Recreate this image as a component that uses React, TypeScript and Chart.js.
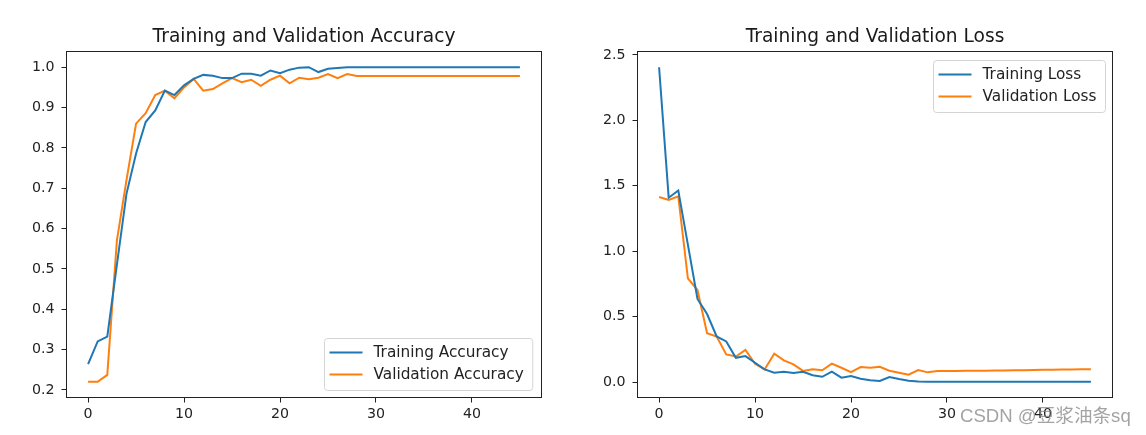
import React, { useEffect, useRef } from 'react';
import { Chart, registerables } from 'chart.js';

Chart.register(...registerables);

// ---- data ----
const trainAcc = [
  0.264, 0.320, 0.332, 0.51, 0.686, 0.786, 0.864, 0.893, 0.942, 0.931,
  0.955, 0.971, 0.981, 0.979, 0.973, 0.973, 0.984, 0.984, 0.979, 0.992,
  0.985, 0.994, 0.999, 1.0, 0.988, 0.996, 0.998, 1.0, 1.0, 1.0,
  1.0, 1.0, 1.0, 1.0, 1.0, 1.0, 1.0, 1.0, 1.0, 1.0,
  1.0, 1.0, 1.0, 1.0, 1.0, 1.0,
];
const valAcc = [
  0.220, 0.220, 0.237, 0.57, 0.72, 0.86, 0.886, 0.931, 0.942, 0.923,
  0.950, 0.971, 0.942, 0.946, 0.960, 0.973, 0.963, 0.969, 0.954, 0.969,
  0.979, 0.960, 0.974, 0.970, 0.974, 0.983, 0.973, 0.983, 0.978, 0.978,
  0.978, 0.978, 0.978, 0.978, 0.978, 0.978, 0.978, 0.978, 0.978, 0.978,
  0.978, 0.978, 0.978, 0.978, 0.978, 0.978,
];
const trainLoss = [
  2.406, 1.409, 1.464, 1.05, 0.635, 0.520, 0.348, 0.310, 0.185, 0.198,
  0.147, 0.096, 0.071, 0.079, 0.069, 0.078, 0.052, 0.040, 0.079, 0.033,
  0.046, 0.025, 0.013, 0.008, 0.038, 0.023, 0.010, 0.005, 0.002, 0.002,
  0.002, 0.002, 0.002, 0.002, 0.002, 0.002, 0.002, 0.002, 0.002, 0.002,
  0.002, 0.002, 0.002, 0.002, 0.002, 0.002,
];
const valLoss = [
  1.414, 1.391, 1.419, 0.792, 0.703, 0.373, 0.348, 0.211, 0.195, 0.246,
  0.140, 0.096, 0.216, 0.165, 0.135, 0.085, 0.098, 0.090, 0.141, 0.109,
  0.076, 0.114, 0.109, 0.117, 0.086, 0.071, 0.056, 0.091, 0.074, 0.084,
  0.085, 0.085, 0.086, 0.087, 0.087, 0.088, 0.089, 0.090, 0.091, 0.092,
  0.093, 0.094, 0.095, 0.095, 0.097, 0.098,
];

const xTicks = [0, 10, 20, 30, 40];
const accTicks = [0.2, 0.3, 0.4, 0.5, 0.6, 0.7, 0.8, 0.9, 1.0];
const lossTicks = [0.0, 0.5, 1.0, 1.5, 2.0, 2.5];

const accTitle = 'Training and Validation Accuracy';
const lossTitle = 'Training and Validation Loss';
const accLabels = ['Training Accuracy', 'Validation Accuracy'];
const lossLabels = ['Training Loss', 'Validation Loss'];

const BLUE = '#1f77b4';
const ORANGE = '#ff7f0e';
const INK = '#222222';
const FONT = '"DejaVu Sans", Verdana, sans-serif';

function margins(arrays: number[][]) {
  const all = arrays.flat();
  const lo = Math.min(...all);
  const hi = Math.max(...all);
  const pad = (hi - lo) * 0.05;
  return [lo - pad, hi + pad];
}

const mplPlugin = {
  id: 'mpl',
  afterDraw(chart: any, _args: any, opts: any) {
    const { ctx, chartArea: a } = chart;
    ctx.save();
    // frame (spines)
    ctx.strokeStyle = INK;
    ctx.lineWidth = 1;
    ctx.strokeRect(a.left, a.top, a.right - a.left, a.bottom - a.top);
    // title
    ctx.fillStyle = '#1a1a1a';
    ctx.font = `18.6px ${FONT}`;
    ctx.textAlign = 'center';
    ctx.textBaseline = 'alphabetic';
    ctx.fillText(opts.title, (a.left + a.right) / 2, opts.titleY);
    // legend
    ctx.font = `15.3px ${FONT}`;
    const ds = chart.data.datasets;
    let maxW = 0;
    ds.forEach((d: any) => { maxW = Math.max(maxW, ctx.measureText(d.label).width); });
    const boxW = 5 + 33 + 11 + maxW + 9;
    const boxH = 52;
    let x1: number, y1: number;
    if (opts.corner === 'lower right') {
      x1 = a.right - 9 - boxW;
      y1 = a.bottom - 8 - boxH;
    } else {
      x1 = a.right - 8 - boxW;
      y1 = a.top + 8;
    }
    x1 = Math.round(x1) + 0.5;
    y1 = Math.round(y1) + 0.5;
    const r = 3;
    ctx.beginPath();
    ctx.moveTo(x1 + r, y1);
    ctx.lineTo(x1 + boxW - r, y1);
    ctx.arcTo(x1 + boxW, y1, x1 + boxW, y1 + r, r);
    ctx.lineTo(x1 + boxW, y1 + boxH - r);
    ctx.arcTo(x1 + boxW, y1 + boxH, x1 + boxW - r, y1 + boxH, r);
    ctx.lineTo(x1 + r, y1 + boxH);
    ctx.arcTo(x1, y1 + boxH, x1, y1 + boxH - r, r);
    ctx.lineTo(x1, y1 + r);
    ctx.arcTo(x1, y1, x1 + r, y1, r);
    ctx.closePath();
    ctx.fillStyle = 'rgba(255,255,255,0.8)';
    ctx.fill();
    ctx.strokeStyle = '#d4d4d4';
    ctx.stroke();
    ds.forEach((d: any, k: number) => {
      const cy = y1 + 14 + k * 22;
      ctx.strokeStyle = d.borderColor;
      ctx.lineWidth = 2;
      ctx.beginPath();
      ctx.moveTo(x1 + 5, cy);
      ctx.lineTo(x1 + 38, cy);
      ctx.stroke();
      ctx.fillStyle = INK;
      ctx.textAlign = 'left';
      ctx.textBaseline = 'middle';
      ctx.fillText(d.label, x1 + 49, cy + 1);
    });
    ctx.restore();
  },
};

function makeConfig(
  s1: number[], s2: number[], labels: string[], yTicks: number[],
  title: string, corner: string, yWidth: number, rightPad: number,
) {
  const [ymin, ymax] = margins([s1, s2]);
  const n = s1.length;
  const [xmin, xmax] = [-(n - 1) * 0.05, (n - 1) * 1.05];
  const pts = (arr: number[]) => arr.map((v, i) => ({ x: i, y: v }));
  return {
    type: 'line' as const,
    data: {
      datasets: [
        { label: labels[0], data: pts(s1), borderColor: BLUE, backgroundColor: BLUE, borderWidth: 2, pointRadius: 0, tension: 0 },
        { label: labels[1], data: pts(s2), borderColor: ORANGE, backgroundColor: ORANGE, borderWidth: 2, pointRadius: 0, tension: 0 },
      ],
    },
    options: {
      responsive: false,
      animation: false as const,
      devicePixelRatio: 1,
      layout: { padding: { left: 0, right: rightPad, top: 51.5, bottom: 0 } },
      plugins: {
        legend: { display: false },
        title: { display: false },
        tooltip: { enabled: false },
        mpl: { title, titleY: 42, corner },
      },
      scales: {
        x: {
          type: 'linear' as const,
          min: xmin,
          max: xmax,
          afterBuildTicks: (s: any) => { s.ticks = xTicks.map((v) => ({ value: v })); },
          afterFit: (s: any) => { s.height = 37.5; },
          grid: { drawOnChartArea: false, drawTicks: true, tickLength: 5, tickColor: INK, tickWidth: 1 },
          border: { display: false },
          ticks: {
            color: INK,
            font: { family: FONT, size: 14.2 },
            padding: 3,
            maxRotation: 0,
            callback: (v: any) => String(v),
          },
        },
        y: {
          type: 'linear' as const,
          min: ymin,
          max: ymax,
          afterBuildTicks: (s: any) => { s.ticks = yTicks.map((v) => ({ value: v })); },
          afterFit: (s: any) => { s.width = yWidth; },
          grid: { drawOnChartArea: false, drawTicks: true, tickLength: 5, tickColor: INK, tickWidth: 1 },
          border: { display: false },
          ticks: {
            color: INK,
            font: { family: FONT, size: 14.2 },
            padding: 7,
            callback: (v: any) => Number(v).toFixed(1),
          },
        },
      },
    },
    plugins: [mplPlugin],
  };
}

export default function App() {
  const leftRef = useRef<HTMLCanvasElement | null>(null);
  const rightRef = useRef<HTMLCanvasElement | null>(null);

  useEffect(() => {
    const c1 = new Chart(leftRef.current as HTMLCanvasElement,
      makeConfig(trainAcc, valAcc, accLabels, accTicks, accTitle, 'lower right', 66.5, 31.5) as any);
    const c2 = new Chart(rightRef.current as HTMLCanvasElement,
      makeConfig(trainLoss, valLoss, lossLabels, lossTicks, lossTitle, 'upper right', 64.5, 33.5) as any);
    return () => { c1.destroy(); c2.destroy(); };
  }, []);

  return (
    <div style={{ position: 'absolute', left: 0, top: 0, width: 1146, height: 435, background: '#fff', overflow: 'hidden' }}>
      <canvas ref={leftRef} width={573} height={435}
        style={{ position: 'absolute', left: 0, top: 0, width: 573, height: 435 }} />
      <canvas ref={rightRef} width={573} height={435}
        style={{ position: 'absolute', left: 573, top: 0, width: 573, height: 435 }} />
      <span style={{
        position: 'absolute', left: 960, top: 405, fontSize: 18.6, lineHeight: '21px',
        fontFamily: '"Liberation Sans", "Noto Sans CJK SC", sans-serif',
        color: 'rgba(128,128,128,0.72)', whiteSpace: 'nowrap',
      }}>CSDN @豆浆油条sq</span>
    </div>
  );
}
